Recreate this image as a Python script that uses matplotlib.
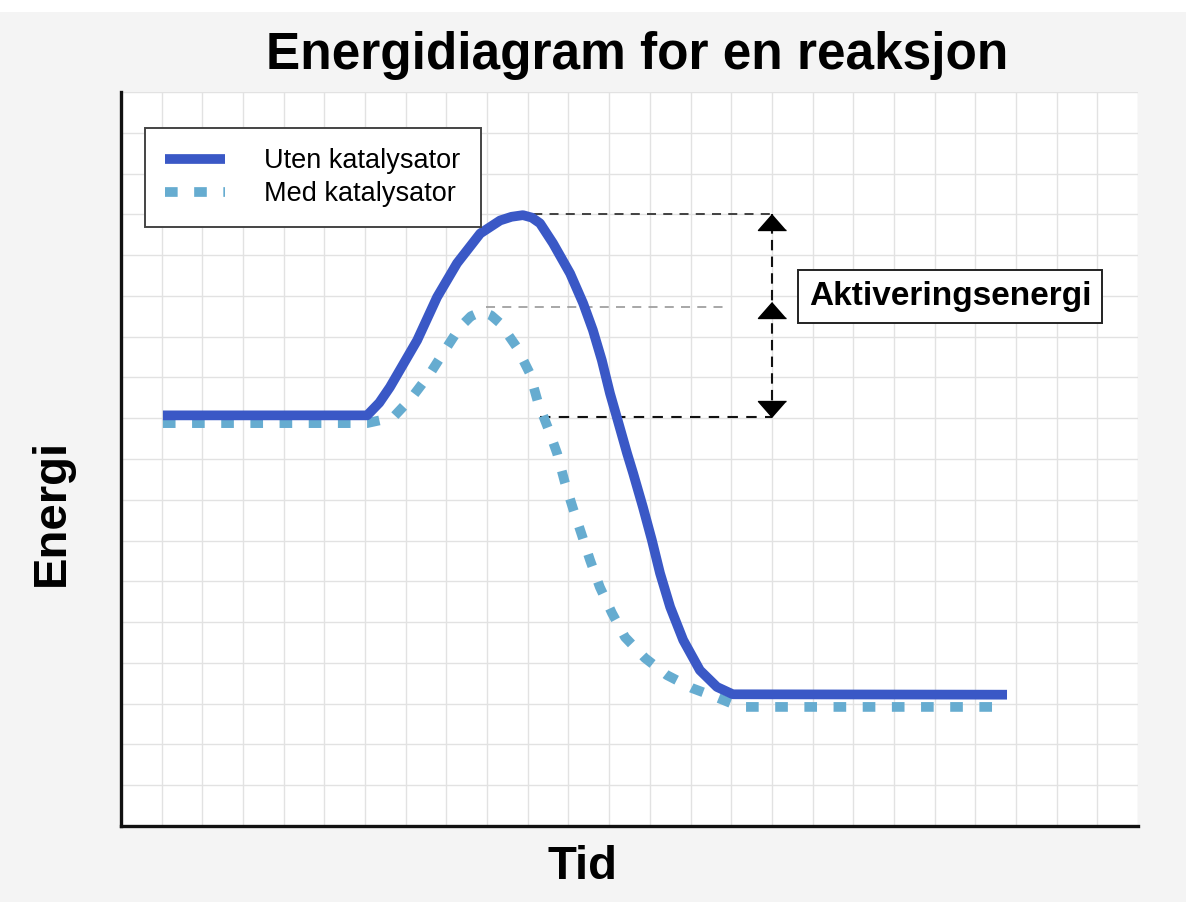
import matplotlib
matplotlib.use("Agg")
import matplotlib.pyplot as plt
from matplotlib.patches import Rectangle

plt.rcParams['font.family'] = ['Liberation Sans', 'DejaVu Sans']

# Kurver lest av bildet (tid, energi) i rutenett-enheter
tid_uten = [1.03, 6.05, 6.35, 6.61, 7.28, 7.77, 8.26, 8.83, 9.32, 9.6, 9.88, 10.1,
            10.30, 10.62, 11.04, 11.36, 11.60, 11.82, 12.02, 12.19, 12.44, 12.59,
            12.83, 13.05, 13.25, 13.50, 13.82, 14.23, 14.65, 15.04, 21.78]
energi_uten = [10.07, 10.07, 10.38, 10.76, 11.91, 12.97, 13.80, 14.53, 14.85, 14.94,
               14.98, 14.92, 14.78, 14.29, 13.55, 12.82, 12.16, 11.42, 10.61, 10.02,
               9.14, 8.65, 7.82, 7.01, 6.20, 5.37, 4.56, 3.82, 3.41, 3.23, 3.22]

tid_med = [1.03, 6.05, 6.69, 7.15, 7.60, 8.01, 8.33, 8.6, 8.87, 9.1, 9.32, 9.73,
           10.05, 10.25, 10.50, 10.72, 10.91, 11.11, 11.33, 11.53, 11.77, 12.07,
           12.39, 12.88, 13.42, 14.04, 14.68, 15.22, 21.68]
energi_med = [9.88, 9.88, 10.02, 10.51, 11.10, 11.74, 12.23, 12.50, 12.62, 12.52,
              12.33, 11.74, 11.10, 10.39, 9.75, 9.14, 8.43, 7.79, 7.13, 6.52, 5.86,
              5.22, 4.63, 4.12, 3.70, 3.38, 3.14, 2.92, 2.92]

etiketter = ["Uten katalysator", "Med katalysator"]

# Aktiveringsenergi: topp, topp med katalysator, startnivå
topp_uten = 15.0
topp_med = 12.72
startniva = 10.02
pil_x = 16.0

fig = plt.figure(figsize=(11.86, 9.02), dpi=100, facecolor='#f4f4f4')
fig.patches.append(Rectangle((0, 1 - 12 / 902), 1, 12 / 902, transform=fig.transFigure,
                             facecolor='white', edgecolor='none', zorder=-1))
ax = fig.add_axes([121 / 1186, 76 / 902, 1017 / 1186, 734 / 902])
ax.set_facecolor('white')
ax.set_xlim(0, 25)
ax.set_ylim(0, 18)
ax.set_xticks(range(0, 26))
ax.set_yticks(range(0, 19))
ax.tick_params(length=0, labelbottom=False, labelleft=False)
ax.grid(True, color='#e2e2e2', lw=1)
ax.set_axisbelow(True)
for s in ['top', 'right']:
    ax.spines[s].set_visible(False)
for s in ['left', 'bottom']:
    ax.spines[s].set_linewidth(2.4)
    ax.spines[s].set_color('#111111')

ax.plot(tid_uten, energi_uten, color='#3a58c6', lw=7, solid_capstyle='butt',
        solid_joinstyle='round', label=etiketter[0], zorder=4)
ax.plot(tid_med, energi_med, color='#66acd0', lw=7, dashes=(1.3, 1.7),
        label=etiketter[1], zorder=3)

# stiplede hjelpelinjer
ax.plot([9.73, pil_x], [topp_uten, topp_uten], color='#333333',
        lw=1.3, dashes=(5, 4), zorder=2)
ax.plot([8.97, 14.85], [topp_med, topp_med], color='#a0a0a0',
        lw=1.3, dashes=(5, 4), zorder=2)
ax.plot([10.3, pil_x], [startniva, startniva], color='#111111',
        lw=1.5, dashes=(5, 4), zorder=2)
ax.plot([pil_x, pil_x], [startniva, topp_uten], color='#111111',
        lw=1.5, dashes=(5, 3), zorder=2)

opp = [(0, 0), (-1, -1.14), (1, -1.14)]
ned = [(0, 0), (-1, 1.14), (1, 1.14)]
ax.plot([pil_x, pil_x], [topp_uten, topp_med + 0.12], ls='none', marker=opp,
        ms=23, color='black', zorder=5)
ax.plot([pil_x], [startniva], ls='none', marker=ned, ms=23, color='black', zorder=5)

ax.text(20.38, 12.98, "Aktiveringsenergi", fontsize=24, fontweight='bold',
        ha='center', va='center', zorder=6,
        bbox=dict(boxstyle='square,pad=0.33', facecolor='white',
                  edgecolor='#222222', lw=1.4))

leg = ax.legend(loc='upper left', bbox_to_anchor=(24 / 1017, 698 / 734),
                borderaxespad=0, fontsize=19.5, handlelength=2.2,
                handletextpad=1.45, labelspacing=0.25, borderpad=0.75,
                fancybox=False, framealpha=1, edgecolor='#444444')
leg.get_frame().set_linewidth(1.4)
leg.set_zorder(7)

fig.text(637 / 1186, 1 - 55 / 902, "Energidiagram for en reaksjon", fontsize=37,
         fontweight='bold', ha='center', va='center')
ax.set_xlabel("Tid", fontsize=34, fontweight='bold', va='center')
ax.xaxis.set_label_coords((583 - 121) / 1017, (826 - 867) / 734)
ax.set_ylabel("Energi", fontsize=34, fontweight='bold', va='center')
ax.yaxis.set_label_coords((52 - 121) / 1017, (826 - 512) / 734)

fig.savefig("out.png", dpi=100, facecolor=fig.get_facecolor())
